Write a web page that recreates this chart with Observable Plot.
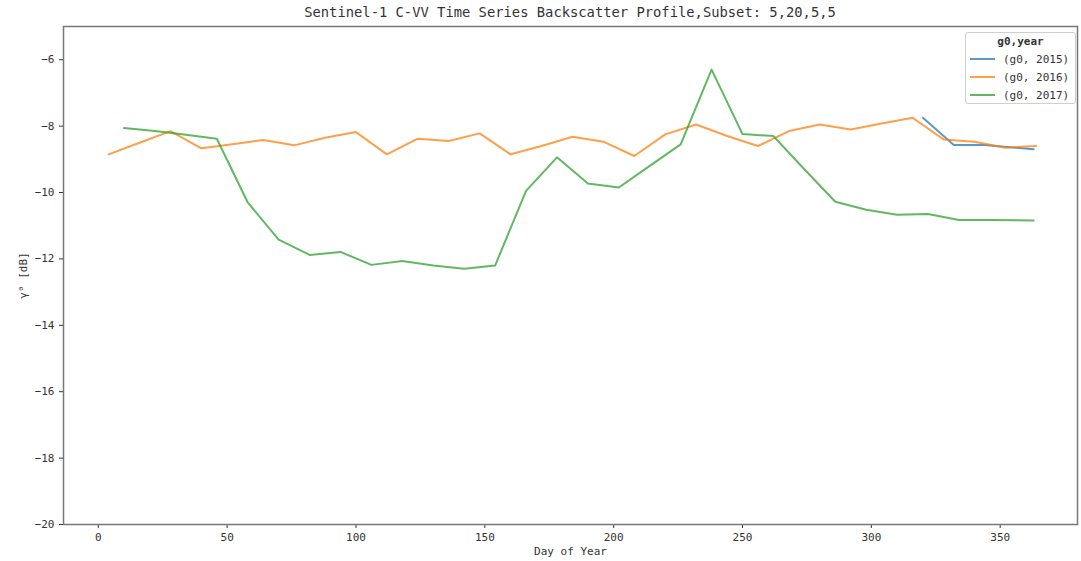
<!DOCTYPE html>
<html>
<head>
<meta charset="utf-8">
<script src="https://cdn.jsdelivr.net/npm/d3@7"></script>
<script src="https://cdn.jsdelivr.net/npm/@observablehq/plot@0.6"></script>
<style>
  body { margin: 0; background: #fff; font-family: "DejaVu Sans Mono", monospace; }
  #wrap { position: relative; width: 1081px; height: 561px; }
  #title { position: absolute; left: 63px; width: 1014px; top: 4px; text-align: center; font-size: 13.8px; color: #333; white-space: nowrap; }
  #chart { position: absolute; left: 0; top: 20px; }
  #legend { position: absolute; left: 965px; top: 32px; width: 111px; height: 72px; box-sizing: border-box; border: 1px solid #d0d0d0; border-radius: 3px; background: rgba(255,255,255,0.85); font-size: 11px; color: #333; padding: 0 4px; }
  #legend .lt { text-align: center; font-weight: bold; height: 17px; line-height: 17px; }
  #legend .row { display: flex; align-items: center; height: 18px; }
  #legend .sw { width: 25px; height: 0; border-top: 2px solid; margin-right: 8px; }
</style>
</head>
<body>
<div id="wrap">
  <div id="title">Sentinel-1 C-VV Time Series Backscatter Profile,Subset: 5,20,5,5</div>
  <div id="chart"></div>
  <div id="legend"></div>
</div>
<script>
const seriesNames = ["(g0, 2015)", "(g0, 2016)", "(g0, 2017)"];
const seriesColors = ["#1f77b4", "#ff7f0e", "#2ca02c"];

const days2015 = [320, 332, 344, 356, 363];
const vals2015 = [-7.75, -8.57, -8.57, -8.65, -8.7];

const days2016 = [4, 16, 28, 40, 52, 64, 76, 88, 100, 112, 124, 136, 148, 160, 172, 184, 196, 208, 220, 232, 244, 256, 268, 280, 292, 304, 316, 328, 340, 352, 364];
const vals2016 = [-8.85, -8.5, -8.15, -8.67, -8.55, -8.42, -8.58, -8.35, -8.18, -8.85, -8.38, -8.45, -8.22, -8.85, -8.6, -8.32, -8.47, -8.9, -8.25, -7.95, -8.3, -8.6, -8.15, -7.95, -8.1, -7.92, -7.75, -8.4, -8.47, -8.65, -8.6];

const days2017 = [10, 22, 34, 46, 58, 70, 82, 94, 106, 118, 130, 142, 154, 166, 178, 190, 202, 214, 226, 238, 250, 262, 274, 286, 298, 310, 322, 334, 346, 363];
const vals2017 = [-8.06, -8.15, -8.26, -8.38, -10.3, -11.42, -11.88, -11.79, -12.18, -12.06, -12.2, -12.3, -12.2, -9.95, -8.94, -9.73, -9.85, -9.2, -8.55, -6.3, -8.24, -8.3, -9.3, -10.28, -10.52, -10.67, -10.65, -10.83, -10.83, -10.84];

const xTicks = [0, 50, 100, 150, 200, 250, 300, 350];
const yTicks = [-20, -18, -16, -14, -12, -10, -8, -6];

const allDays = [days2015, days2016, days2017];
const allVals = [vals2015, vals2016, vals2017];
const rows = [];
allDays.forEach((ds, i) => ds.forEach((d, j) => rows.push({day: d, value: allVals[i][j], series: seriesNames[i]})));

const chart = Plot.plot({
  width: 1081,
  height: 541,
  marginTop: 6,
  marginBottom: 37,
  marginLeft: 63,
  marginRight: 4,
  style: {fontFamily: "DejaVu Sans Mono, monospace", fontSize: "11px", color: "#333", background: "white"},
  x: {domain: [-13.5, 380], ticks: xTicks, tickSize: 4, label: "Day of Year", labelAnchor: "center", labelArrow: "none", labelOffset: 30},
  y: {domain: [-20, -5], ticks: yTicks, tickSize: 4, label: "γ⁰ [dB]", labelAnchor: "center", labelArrow: "none", labelOffset: 44},
  color: {domain: seriesNames, range: seriesColors},
  marks: [
    Plot.lineY(rows, {x: "day", y: "value", z: "series", stroke: "series", strokeWidth: 2, strokeOpacity: 0.75}),
    Plot.frame({stroke: "#777", strokeWidth: 1.5})
  ]
});
document.getElementById("chart").appendChild(chart);

const lg = document.getElementById("legend");
let html = '<div class="lt">g0,year</div>';
seriesNames.forEach((n, i) => {
  html += `<div class="row"><span class="sw" style="border-color:${seriesColors[i]};opacity:0.75"></span><span>${n}</span></div>`;
});
lg.innerHTML = html;
</script>
</body>
</html>
